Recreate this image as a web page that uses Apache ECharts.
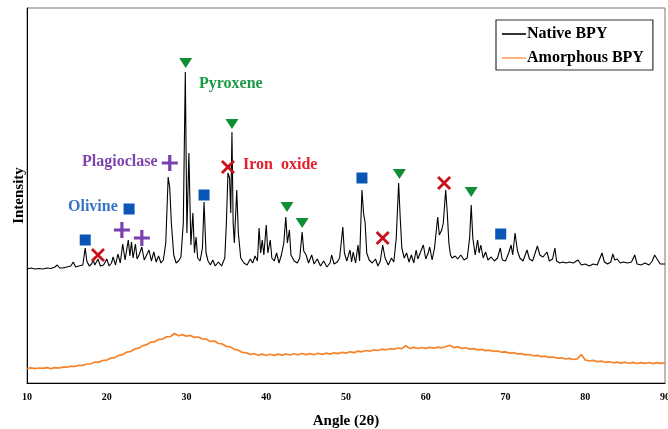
<!DOCTYPE html>
<html>
<head>
<meta charset="utf-8">
<title>XRD BPY</title>
<style>
  html, body { margin: 0; padding: 0; background: #fff; }
  #xrd { width: 668px; height: 429px; }
</style>
</head>
<body>
<div id="xrd"></div>
<script type="text/javascript" src="https://cdn.jsdelivr.net/npm/echarts@6/dist/echarts.min.js"></script>
<script type="text/javascript">
// x ticks
var angleTicks = [10, 20, 30, 40, 50, 60, 70, 80, 90];

// Native BPY  [2theta, intensity a.u.]
var nativeBPY = [
  [10.0,114],[10.5,115],[11.0,114],[11.5,114.5],[12.0,114],[12.5,115],[13.0,114.5],[13.5,116],[13.8,118],[14.1,115],
  [14.5,115],[15.0,116],[15.5,117],[15.8,121],[16.1,116],[16.5,117],[17.0,118],[17.3,135],[17.5,122],[17.8,117],
  [18.1,119],[18.3,123],[18.5,118],[18.9,124],[19.2,117],[19.6,118],[20.0,124],[20.3,117],[20.6,120],[20.8,126],
  [21.1,118],[21.4,129],[21.7,120],[22.0,139],[22.3,123],[22.7,143],[22.9,127],[23.1,141],[23.3,125],[23.6,139],
  [23.8,124],[24.1,129],[24.4,136],[24.7,123],[25.0,128],[25.3,133],[25.6,122],[25.9,131],[26.2,121],[26.5,127],
  [26.8,120],[27.1,123],[27.4,140],[27.7,206],[27.9,195],[28.1,160],[28.4,128],[28.7,120],[29.0,122],[29.3,126],
  [29.6,160],[29.85,311],[30.05,150],[30.3,230],[30.55,138],[30.8,170],[31.0,130],[31.2,146],[31.4,125],[31.7,122],
  [32.0,135],[32.2,181],[32.45,130],[32.7,122],[33.0,118],[33.3,123],[33.6,117],[34.0,121],[34.4,117],[34.8,125],
  [35.0,160],[35.2,210],[35.4,205],[35.55,170],[35.7,251],[35.85,160],[36.0,140],[36.3,193],[36.5,150],[36.8,125],
  [37.2,120],[37.6,118],[38.0,124],[38.3,120],[38.6,127],[38.9,122],[39.1,155],[39.3,130],[39.5,143],[39.7,128],
  [40.0,158],[40.2,130],[40.5,143],[40.7,125],[41.0,122],[41.3,130],[41.6,120],[41.9,128],[42.2,140],[42.45,166],
  [42.65,140],[42.9,153],[43.1,128],[43.5,122],[43.9,120],[44.2,125],[44.5,151],[44.7,132],[45.0,128],[45.3,120],
  [45.7,128],[46.0,119],[46.4,124],[46.8,117],[47.2,122],[47.6,116],[48.0,120],[48.2,128],[48.5,119],[48.9,121],
  [49.2,125],[49.6,156],[49.8,130],[50.1,122],[50.5,133],[50.7,121],[50.9,131],[51.2,120],[51.5,138],[51.7,122],
  [52.0,193],[52.2,170],[52.4,160],[52.6,130],[52.9,123],[53.3,120],[53.7,124],[54.0,117],[54.3,122],[54.6,138],
  [54.9,125],[55.3,118],[55.7,125],[56.0,121],[56.3,145],[56.6,200],[56.8,165],[57.0,135],[57.3,125],[57.6,130],
  [57.9,121],[58.2,128],[58.5,120],[58.8,133],[59.0,124],[59.3,130],[59.7,138],[60.0,124],[60.3,130],[60.5,136],
  [60.8,123],[61.1,135],[61.5,166],[61.7,148],[62.0,153],[62.2,160],[62.5,193],[62.7,170],[62.9,140],[63.1,128],
  [63.3,125],[63.7,127],[64.0,124],[64.4,128],[64.8,123],[65.2,125],[65.5,145],[65.7,178],[65.9,145],[66.2,128],
  [66.5,143],[66.7,130],[66.9,138],[67.2,125],[67.5,131],[67.8,123],[68.2,126],[68.6,122],[69.0,125],[69.35,135],
  [69.6,123],[70.0,122],[70.4,130],[70.7,138],[70.9,128],[71.2,150],[71.5,132],[71.8,125],[72.2,122],[72.7,133],
  [73.0,124],[73.4,122],[74.0,137],[74.3,128],[74.7,126],[75.2,131],[75.5,122],[75.9,124],[76.2,135],[76.4,122],
  [76.8,120],[77.2,121],[77.6,120],[78.0,121],[78.5,120],[79.1,123],[79.5,118],[80.0,119],[80.5,117],[81.0,119],
  [81.5,118],[82.1,130],[82.4,121],[82.8,119],[83.2,121],[83.45,129],[83.7,123],[84.0,124],[84.4,120],[84.8,121],
  [85.3,120],[85.8,121],[86.2,128],[86.5,119],[87.0,118],[87.5,120],[88.0,118],[88.4,122],[88.7,128],[89.0,124],
  [89.4,119],[90.0,119]
];

// Amorphous BPY
var amorphousBPY = [
  [10.0,14.5],[10.5,15.2],[11.0,14.3],[11.5,15.0],[12.0,14.6],[12.5,15.3],[13.0,14.4],[13.5,15.4],[14.0,15.0],[14.5,15.9],
  [15.0,15.8],[15.5,16.8],[16.0,16.5],[16.5,17.6],[17.0,17.6],[17.5,19.0],[18.0,19.2],[18.5,20.8],[19.0,20.9],[19.5,22.5],
  [20.0,22.9],[20.5,24.8],[21.0,25.4],[21.5,27.6],[22.0,28.4],[22.5,30.8],[23.0,31.5],[23.5,34.0],[24.0,34.8],[24.5,37.4],
  [25.0,38.3],[25.5,40.8],[26.0,41.3],[26.5,43.6],[27.0,43.9],[27.5,46.2],[28.0,46.5],[28.5,49.5],[29.0,47.2],[29.5,48.4],
  [30.0,46.8],[30.5,47.6],[31.0,45.6],[31.5,46.0],[32.0,44.0],[32.5,43.8],[33.0,41.6],[33.5,42.0],[34.0,39.5],[34.5,39.0],
  [35.0,36.6],[35.5,36.0],[36.0,33.7],[36.5,32.8],[37.0,30.6],[37.5,30.2],[38.0,28.5],[38.5,29.3],[39.0,27.7],[39.5,28.9],
  [40.0,27.5],[40.5,28.7],[41.0,27.6],[41.5,28.9],[42.0,27.9],[42.5,29.0],[43.0,28.0],[43.5,29.3],[44.0,28.2],[44.5,29.5],
  [45.0,28.4],[45.5,29.4],[46.0,28.3],[46.5,29.7],[47.0,28.6],[47.5,29.8],[48.0,28.9],[48.5,30.2],[49.0,29.4],[49.5,30.7],
  [50.0,29.9],[50.5,31.2],[51.0,30.4],[51.5,31.9],[52.0,31.2],[52.5,32.5],[53.0,31.8],[53.5,33.2],[54.0,32.5],[54.5,33.8],
  [55.0,33.2],[55.5,34.3],[56.0,33.8],[56.5,35.0],[57.0,34.4],[57.5,37.2],[58.0,34.6],[58.5,35.6],[59.0,34.5],[59.5,35.5],
  [60.0,34.6],[60.5,35.7],[61.0,34.8],[61.5,35.9],[62.0,35.2],[62.5,36.3],[63.0,37.8],[63.5,35.4],[64.0,36.2],[64.5,34.6],
  [65.0,35.2],[65.5,33.9],[66.0,34.4],[66.5,33.1],[67.0,33.6],[67.5,32.4],[68.0,32.8],[68.5,31.6],[69.0,32.0],[69.5,30.8],
  [70.0,31.1],[70.5,29.9],[71.0,30.3],[71.5,29.1],[72.0,29.4],[72.5,28.1],[73.0,28.5],[73.5,27.2],[74.0,27.6],[74.5,26.4],
  [75.0,26.8],[75.5,25.6],[76.0,26.0],[76.5,24.8],[77.0,25.2],[77.5,24.0],[78.0,24.6],[78.5,23.5],[79.0,24.1],[79.5,28.5],
  [80.0,23.0],[80.5,22.0],[81.0,22.6],[81.5,21.4],[82.0,21.9],[82.5,20.7],[83.0,21.3],[83.5,20.2],[84.0,20.9],[84.5,19.9],
  [85.0,20.8],[85.5,19.7],[86.0,20.6],[86.5,19.5],[87.0,20.4],[87.5,19.6],[88.0,20.5],[88.5,19.4],[89.0,20.3],[89.5,19.6],
  [90.0,20.2]
];

// phase markers
var pyroxene = [[29.9,320],[35.7,259],[42.6,176],[44.5,160],[56.7,209],[65.7,191]];
var ironOxide = [[18.9,128],[35.2,216],[54.6,145],[62.3,200]];
var plagioclase = [[27.9,220],[21.9,153],[24.4,145]];
var olivine = [[17.3,143],[22.8,174],[32.2,188],[52.0,205],[69.4,149]];

var serif = '"Liberation Serif", "Times New Roman", serif';
var plusPath = 'path://M4,0H6V4H10V6H6V10H4V6H0V4H4Z';
var crossPath = 'path://M1.4,0L5,3.6L8.6,0L10,1.4L6.4,5L10,8.6L8.6,10L5,6.4L1.4,10L0,8.6L3.6,5L0,1.4Z';

var myChart = echarts.init(document.getElementById('xrd'));
var option = {
  animation: false,
  grid: { left: 27, right: 3, top: 8, bottom: 46, show: true, borderColor: '#777', borderWidth: 1,
    outerBoundsMode: 'none', containLabel: false },
  legend: {
    data: ['Native BPY', 'Amorphous BPY'],
    orient: 'vertical',
    left: 496, top: 20,
    padding: [6, 9, 4, 6],
    itemGap: 8,
    itemWidth: 24, itemHeight: 2,
    icon: 'rect',
    borderColor: '#333', borderWidth: 1.2,
    textStyle: { fontFamily: serif, fontWeight: 'bold', fontSize: 16, color: '#000', padding: [0, 0, 0, -4] }
  },
  xAxis: {
    type: 'value', min: 10, max: 90, interval: 10,
    name: 'Angle (2θ)', nameLocation: 'middle', nameGap: 31,
    nameTextStyle: { fontFamily: serif, fontWeight: 'bold', fontSize: 15, color: '#000' },
    axisLine: { lineStyle: { color: '#000', width: 1 } },
    axisTick: { show: false },
    axisLabel: { fontFamily: serif, fontWeight: 'bold', fontSize: 10, color: '#000', margin: 9,
      formatter: function (v) { return angleTicks.indexOf(v) >= 0 ? v : ''; } },
    splitLine: { show: false }
  },
  yAxis: {
    type: 'value', min: 0, max: 375,
    name: 'Intensity', nameLocation: 'middle', nameGap: 0,
    nameTextStyle: { fontFamily: serif, fontWeight: 'bold', fontSize: 15, color: '#000' },
    axisLine: { show: true, lineStyle: { color: '#000', width: 1 } },
    axisTick: { show: false }, axisLabel: { show: false }, splitLine: { show: false }
  },
  series: [
    { name: 'Native BPY', type: 'line', data: nativeBPY, showSymbol: false,
      lineStyle: { color: '#000', width: 1.1 }, itemStyle: { color: '#333' }, z: 3 },
    { name: 'Amorphous BPY', type: 'line', data: amorphousBPY, showSymbol: false,
      lineStyle: { color: '#f5832a', width: 1.7 }, itemStyle: { color: '#fbb27f' }, z: 2 },
    { name: 'Pyroxene', type: 'scatter', data: pyroxene, symbol: 'triangle', symbolRotate: 180,
      symbolSize: [13, 10], itemStyle: { color: '#0f8f33', opacity: 1 }, z: 5 },
    { name: 'Iron oxide', type: 'scatter', data: ironOxide, symbol: crossPath,
      symbolSize: 14, itemStyle: { color: '#c8101a', opacity: 1 }, z: 5 },
    { name: 'Plagioclase', type: 'scatter', data: plagioclase, symbol: plusPath,
      symbolSize: 16, itemStyle: { color: '#7b3fb0', opacity: 1 }, z: 5 },
    { name: 'Olivine', type: 'scatter', data: olivine, symbol: 'rect',
      symbolSize: 11, itemStyle: { color: '#0a55b5', opacity: 1 }, z: 5 }
  ],
  graphic: [
    { type: 'text', left: 199, top: 76, style: { text: 'Pyroxene', fill: '#1a9a45', font: 'bold 16px ' + serif } },
    { type: 'text', left: 82, top: 154, style: { text: 'Plagioclase', fill: '#7d45ad', font: 'bold 16px ' + serif } },
    { type: 'text', left: 243, top: 157, style: { text: 'Iron  oxide', fill: '#e3202b', font: 'bold 16px ' + serif } },
    { type: 'text', left: 68, top: 199, style: { text: 'Olivine', fill: '#3b74c6', font: 'bold 16px ' + serif } }
  ]
};
myChart.setOption(option);
</script>
</body>
</html>
